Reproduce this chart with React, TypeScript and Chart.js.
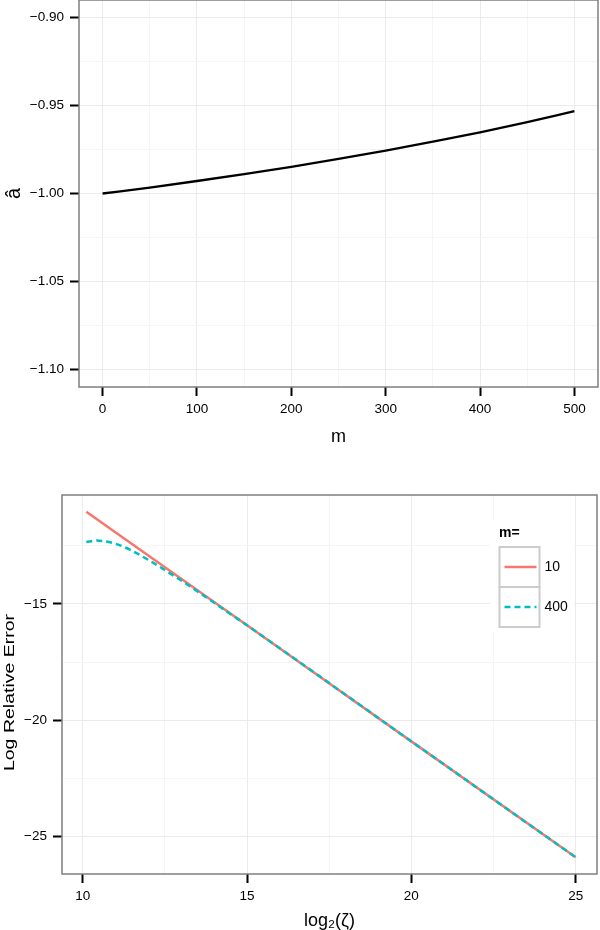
import { useEffect, useRef } from "react";
import { Chart, registerables } from "chart.js";

Chart.register(...registerables);

// ---------- Top panel data ----------
const mValues = [0, 50, 100, 150, 200, 250, 300, 350, 400, 450, 500];
const aHatValues = [-1.0, -0.9966, -0.9929, -0.989, -0.9848, -0.9803, -0.9756, -0.9705, -0.9652, -0.9594, -0.9532];
const topXMajor = [0, 100, 200, 300, 400, 500];
const topXMinor = [50, 150, 250, 350, 450];
const topYMajor = [-1.1, -1.05, -1.0, -0.95, -0.9];
const topYMinor = [-1.075, -1.025, -0.975, -0.925];

// ---------- Bottom panel data ----------
const legendTitle = "m=";
const seriesNames = ["10", "400"];
const xRed = [10.11, 15, 20, 25];
const yRed = [-11.04, -15.92, -20.91, -25.89];
const xCyan = [10.11, 10.43, 10.94, 11.45, 11.95, 12.46, 12.97, 13.47, 13.97, 14.48, 15, 20, 25];
const yCyan = [-12.34, -12.28, -12.39, -12.68, -13.07, -13.51, -13.97, -14.44, -14.92, -15.42, -15.92, -20.91, -25.89];
const botXMajor = [10, 15, 20, 25];
const botXMinor = [12.5, 17.5, 22.5];
const botYMajor = [-25, -20, -15];
const botYMinor = [-22.5, -17.5, -12.5];

const RED = "#F8766D";
const CYAN = "#00BFC4";
const FONT = "'Liberation Sans', Arial, Helvetica, sans-serif";
const MAJOR_GRID = "#EBEBEB";
const MINOR_GRID = "#F5F5F5";
const BORDER = "#7F7F7F";

const fmtMinus = (s: string) => s.replace("-", "\u2212");

function isIn(arr: number[], v: number) {
  return arr.some((m) => Math.abs(m - v) < 1e-9);
}

function axis(opts: {
  min: number;
  max: number;
  major: number[];
  minor: number[];
  fmt: (v: number) => string;
  title?: string;
  titleSize?: number;
  titlePad?: any;
  horizontal: boolean;
  size: number;
}) {
  const { min, max, major, minor, fmt, title, titleSize, titlePad, horizontal, size } = opts;
  return {
    type: "linear",
    min,
    max,
    afterBuildTicks: (scale: any) => {
      scale.ticks = [...major, ...minor].sort((a, b) => a - b).map((v) => ({ value: v }));
    },
    afterFit: (scale: any) => {
      if (horizontal) scale.height = size;
      else scale.width = size;
      scale.paddingTop = 0;
      scale.paddingBottom = 0;
      scale.paddingLeft = 0;
      scale.paddingRight = 0;
    },
    border: { display: false },
    grid: {
      color: (ctx: any) => (ctx.tick && isIn(major, ctx.tick.value) ? MAJOR_GRID : MINOR_GRID),
      lineWidth: 1,
      tickColor: (ctx: any) => (ctx.tick && isIn(major, ctx.tick.value) ? "#000000" : "rgba(0,0,0,0)"),
      tickLength: 9,
      tickWidth: 2,
      drawTicks: true,
    },
    ticks: {
      autoSkip: false,
      maxRotation: 0,
      minRotation: 0,
      color: "#000000",
      padding: horizontal ? 5 : 6,
      font: { family: FONT, size: 13.5 },
      callback: (v: any) => (isIn(major, Number(v)) ? fmt(Number(v)) : ""),
    },
    title: {
      display: !!title,
      text: title || "",
      color: "#000000",
      font: { family: FONT, size: titleSize || 17, lineHeight: 1 },
      padding: titlePad || 0,
    },
  };
}

const boxPlugin = {
  id: "panelBox",
  afterDatasetsDraw(chart: any) {
    const { ctx, chartArea } = chart;
    ctx.save();
    ctx.strokeStyle = BORDER;
    ctx.lineWidth = 1.5;
    ctx.strokeRect(chartArea.left, chartArea.top, chartArea.right - chartArea.left, chartArea.bottom - chartArea.top);
    ctx.restore();
  },
};

// rotated y-axis title (drawn as text, stretched along its reading direction like the reference)
function yTitlePlugin(text: string, baselineX: number, size: number, stretch: number, dy: number) {
  return {
    id: "yTitle",
    afterDraw(chart: any) {
      const { ctx, chartArea } = chart;
      ctx.save();
      ctx.translate(baselineX, (chartArea.top + chartArea.bottom) / 2 + dy);
      ctx.rotate(-Math.PI / 2);
      ctx.scale(stretch, 1);
      ctx.font = `${size}px ${FONT}`;
      ctx.fillStyle = "#000000";
      ctx.textAlign = "center";
      ctx.textBaseline = "alphabetic";
      ctx.fillText(text, 0, 0);
      ctx.restore();
    },
  };
}

const legendPlugin = {
  id: "ggLegend",
  afterDraw(chart: any) {
    const { ctx, chartArea } = chart;
    const ds = chart.data.datasets;
    const bx = chartArea.right - 107;
    const by = chartArea.top + 25;
    ctx.save();
    ctx.fillStyle = "#FFFFFF";
    ctx.fillRect(bx, by, 84, 112);
    ctx.fillStyle = "#000000";
    ctx.font = `bold 14px ${FONT}`;
    ctx.textBaseline = "middle";
    ctx.textAlign = "left";
    ctx.fillText(legendTitle, bx + 9, by + 13);
    const keyX = bx + 9.5;
    const keyW = 40;
    const keyH = 40;
    [0, 1].forEach((di, i) => {
      const d = ds[di];
      const ky = by + 27 + i * keyH;
      ctx.fillStyle = "#FFFFFF";
      ctx.fillRect(keyX, ky, keyW, keyH);
      ctx.strokeStyle = "#CCCCCC";
      ctx.lineWidth = 2;
      ctx.setLineDash([]);
      ctx.strokeRect(keyX, ky, keyW, keyH);
      ctx.strokeStyle = d.borderColor;
      ctx.lineWidth = d.borderWidth;
      ctx.setLineDash(d.borderDash || []);
      ctx.beginPath();
      ctx.moveTo(keyX + 5, ky + keyH / 2);
      ctx.lineTo(keyX + keyW - 3, ky + keyH / 2);
      ctx.stroke();
      ctx.setLineDash([]);
      ctx.fillStyle = "#000000";
      ctx.font = `14px ${FONT}`;
      ctx.fillText(d.label, keyX + keyW + 5, ky + keyH / 2);
    });
    ctx.restore();
  },
};

function TopChart() {
  const ref = useRef<HTMLCanvasElement | null>(null);
  useEffect(() => {
    if (!ref.current) return;
    const chart = new Chart(ref.current, {
      type: "line",
      data: {
        datasets: [
          {
            label: "a",
            data: mValues.map((m, i) => ({ x: m, y: aHatValues[i] })),
            borderColor: "#000000",
            borderWidth: 2.3,
            pointRadius: 0,
            fill: false,
            cubicInterpolationMode: "monotone",
          },
        ],
      },
      options: {
        animation: false,
        responsive: false,
        maintainAspectRatio: false,
        layout: { padding: { left: 0, right: 2, top: 0, bottom: 0 } },
        plugins: { legend: { display: false }, tooltip: { enabled: false } },
        scales: {
          x: axis({
            min: -25,
            max: 525,
            major: topXMajor,
            minor: topXMinor,
            fmt: (v) => String(v),
            title: "m",
            titleSize: 18,
            titlePad: { top: 0, bottom: 14 },
            horizontal: true,
            size: 73,
          }),
          y: axis({
            min: -1.11,
            max: -0.89,
            major: topYMajor,
            minor: topYMinor,
            fmt: (v) => fmtMinus(v.toFixed(2)),
            horizontal: false,
            size: 79,
          }),
        } as any,
      },
      plugins: [boxPlugin, yTitlePlugin("\u00e2", 20, 20, 1, 0)],
    } as any);
    return () => chart.destroy();
  }, []);
  return <canvas ref={ref} width={600} height={460} style={{ display: "block" }} />;
}

function BottomChart() {
  const ref = useRef<HTMLCanvasElement | null>(null);
  useEffect(() => {
    if (!ref.current) return;
    const chart = new Chart(ref.current, {
      type: "line",
      data: {
        datasets: [
          {
            label: seriesNames[0],
            data: xRed.map((x, i) => ({ x, y: yRed[i] })),
            borderColor: RED,
            borderWidth: 2.5,
            pointRadius: 0,
            fill: false,
            order: 2,
          },
          {
            label: seriesNames[1],
            data: xCyan.map((x, i) => ({ x, y: yCyan[i] })),
            borderColor: CYAN,
            borderWidth: 2.5,
            borderDash: [6, 4],
            pointRadius: 0,
            fill: false,
            order: 1,
            cubicInterpolationMode: "monotone",
          },
        ],
      },
      options: {
        animation: false,
        responsive: false,
        maintainAspectRatio: false,
        layout: { padding: { left: 0, right: 3, top: 35, bottom: 0 } },
        plugins: { legend: { display: false }, tooltip: { enabled: false } },
        scales: {
          x: axis({
            min: 9.37,
            max: 25.65,
            major: botXMajor,
            minor: botXMinor,
            fmt: (v) => String(v),
            title: "log\u2082(\u03b6)",
            titleSize: 18,
            titlePad: { top: 0, bottom: 0 },
            horizontal: true,
            size: 56,
          }),
          y: axis({
            min: -26.61,
            max: -10.32,
            major: botYMajor,
            minor: botYMinor,
            fmt: (v) => fmtMinus(String(v)),
            horizontal: false,
            size: 62,
          }),
        } as any,
      },
      plugins: [boxPlugin, legendPlugin, yTitlePlugin("Log Relative Error", 13.5, 15, 1.3, 8)],
    } as any);
    return () => chart.destroy();
  }, []);
  return <canvas ref={ref} width={600} height={470} style={{ display: "block" }} />;
}

export default function App() {
  return (
    <div
      style={{
        position: "absolute",
        left: 0,
        top: 0,
        width: 600,
        height: 930,
        background: "#FFFFFF",
        overflow: "hidden",
      }}
    >
      <TopChart />
      <BottomChart />
    </div>
  );
}
